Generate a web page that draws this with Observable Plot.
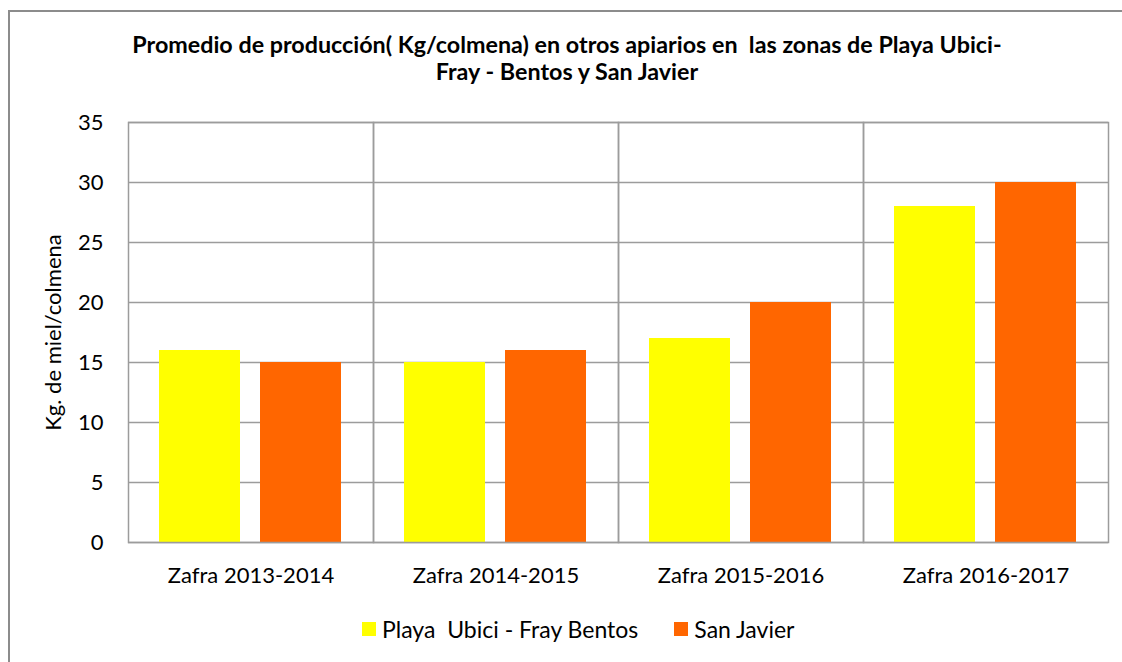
<!DOCTYPE html>
<html>
<head>
<meta charset="utf-8">
<script src="https://cdn.jsdelivr.net/npm/d3@7"></script>
<script src="https://cdn.jsdelivr.net/npm/@observablehq/plot@0.6"></script>
<style>
  html, body { margin: 0; padding: 0; background: #fff; overflow: hidden; }
  #wrap { position: relative; width: 1122px; height: 662px; overflow: hidden; font-family: Lato, "Noto Sans", sans-serif; color: #000; }
  #border { position: absolute; left: 8px; top: 10px; width: 3000px; height: 3000px; border: 2px solid #8c8c8c; box-sizing: border-box; }
  #title { position: absolute; left: 6px; top: 31px; width: 1122px; text-align: center; font-weight: bold; font-size: 23.3px; line-height: 27px; }
  #chart { position: absolute; left: 0; top: 100px; }
  #legend { position: absolute; left: 362px; top: 615px; display: flex; align-items: center; font-size: 23px; line-height: 28px; }
  .sw { width: 14px; height: 14px; display: inline-block; margin-right: 6px; }
  .item { display: flex; align-items: center; margin-right: 36px; }
</style>
</head>
<body>
<div id="wrap">
  <div id="border"></div>
  <div id="title"></div>
  <div id="chart"></div>
  <div id="legend"></div>
</div>
<script>
const titleLines = ["Promedio de producción( Kg/colmena) en otros apiarios en  las zonas de Playa Ubici-", "Fray - Bentos y San Javier"];
const categories = ["Zafra 2013-2014", "Zafra 2014-2015", "Zafra 2015-2016", "Zafra 2016-2017"];
const seriesNames = ["Playa  Ubici - Fray Bentos", "San Javier"];
const playaValues = [16, 15, 17, 28];
const sanJavierValues = [15, 16, 20, 30];
const seriesColors = ["#ffff00", "#ff6600"];
const yTicks = [0, 5, 10, 15, 20, 25, 30, 35];
const yLabel = "Kg. de miel/colmena";

const data = [];
categories.forEach((c, i) => {
  data.push({cat: c, series: seriesNames[0], value: playaValues[i]});
  data.push({cat: c, series: seriesNames[1], value: sanJavierValues[i]});
});

document.getElementById("title").innerHTML = titleLines.map(l => l.replace(/  /g, " &nbsp;")).join("<br>");

const grid = "#9c9c9c";
const plot = Plot.plot({
  width: 1122,
  height: 520,
  marginLeft: 127,
  marginRight: 13,
  marginTop: 22,
  marginBottom: 78,
  style: {fontFamily: "Lato, 'Noto Sans', sans-serif", fontSize: "22px", color: "#000", background: "transparent"},
  fx: {domain: categories, padding: 0, label: null, tickSize: 0, tickPadding: 25, axis: "bottom"},
  x: {domain: seriesNames, paddingInner: 0.196, paddingOuter: 0.30, axis: null},
  y: {domain: [0, 35], ticks: yTicks, tickSize: 0, tickPadding: 25, label: yLabel, labelAnchor: "center", labelArrow: "none", labelOffset: 83},
  color: {domain: seriesNames, range: seriesColors},
  marks: [
    Plot.gridY(yTicks, {stroke: grid, strokeOpacity: 1, strokeWidth: 1.5}),
    Plot.barY(data, {fx: "cat", x: "series", y: "value", fill: "series"}),
    Plot.frame({stroke: grid, strokeWidth: 1.5})
  ]
});
document.getElementById("chart").appendChild(plot);

const legend = document.getElementById("legend");
seriesNames.forEach((s, i) => {
  const item = document.createElement("div");
  item.className = "item";
  const sw = document.createElement("span");
  sw.className = "sw";
  sw.style.background = seriesColors[i];
  const t = document.createElement("span");
  t.textContent = s;
  t.style.whiteSpace = "pre";
  item.appendChild(sw);
  item.appendChild(t);
  legend.appendChild(item);
});
</script>
</body>
</html>
